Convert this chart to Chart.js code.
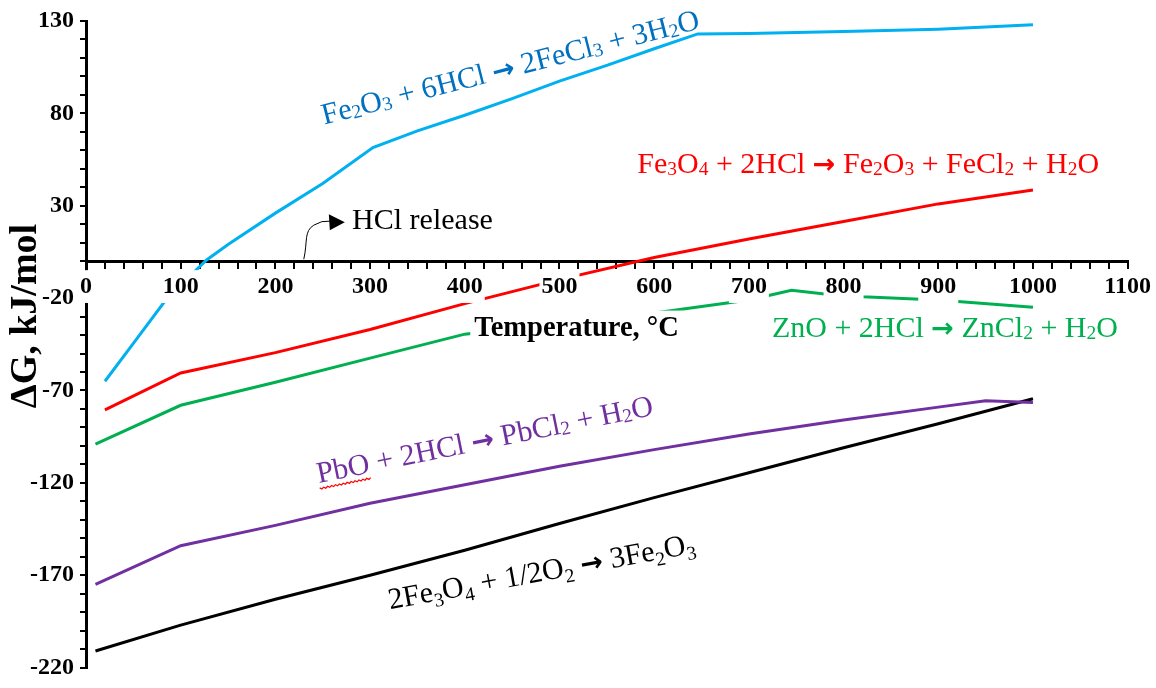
<!DOCTYPE html>
<html>
<head>
<meta charset="utf-8">
<script src="https://cdn.jsdelivr.net/npm/chart.js@4.4.1/dist/chart.umd.min.js"></script>
<style>
  body { margin: 0; background: #fff; }
  #wrap { width: 1156px; height: 688px; }
</style>
</head>
<body>
<div id="wrap"><canvas id="myChart"></canvas></div>
<script>
const serif = '"Liberation Serif", "Times New Roman", serif';

// temperature (°C) and ΔG (kJ/mol)
const fe2o3Temps = [20, 50, 85, 127, 150, 200, 250, 303, 350, 400, 450, 500, 550, 600, 646, 700, 800, 900, 1000];
const fe2o3Dg = [-65, -44.5, -20.5, 0.5, 9, 26, 42, 61.5, 70.5, 79, 88, 97.5, 106, 115, 123, 123.2, 124.3, 125.6, 128];

const fe3o4Temps = [20, 100, 200, 300, 400, 500, 600, 700, 800, 900, 1000];
const fe3o4Dg = [-80.5, -60.5, -49.5, -37, -23, -10, 2, 12, 21.5, 31, 38.5];

const znoTemps = [10, 100, 200, 300, 400, 500, 600, 700, 745, 780, 820, 900, 1000];
const znoDg = [-99, -78, -65.5, -52.5, -39.5, -33.5, -28, -21, -15.7, -17.8, -19.2, -21, -25];

const pboTemps = [10, 100, 200, 300, 400, 500, 600, 700, 800, 900, 950, 1000];
const pboDg = [-175, -154, -143, -131, -121, -111, -102, -93.5, -86, -79, -75.5, -76.5];

const oxTemps = [10, 100, 200, 300, 400, 500, 600, 700, 800, 900, 1000];
const oxDg = [-211, -197, -183, -170, -156.5, -142, -128, -114.5, -101, -88, -74.5];

const xTickStep = 20;   // minor ticks, labelled every 100
const yTickStep = 10;   // minor ticks, labelled every 50 from 130

// reaction labels: text, anchor (°C, kJ/mol), angle, colour
const labels = [
    {text: 'Fe_2O_3 + 6HCl → 2FeCl_3 + 3H_2O', x: 448, y: 105, angle: -14.3, color: '#0070c0'},
    {text: 'Fe_3O_4 + 2HCl → Fe_2O_3 + FeCl_2 + H_2O', x: 826, y: 53, angle: 0, color: '#ff0000'},
    {text: 'ZnO + 2HCl → ZnCl_2 + H_2O', x: 907, y: -36, angle: 0, color: '#00b050'},
    {text: 'PbO + 2HCl → PbCl_2 + H_2O', x: 421, y: -96.5, angle: -11.5, color: '#7030a0', squiggle: 'PbO'},
    {text: '2Fe_3O_4 + 1/2O_2 → 3Fe_2O_3', x: 481, y: -168, angle: -10.5, color: '#000000', drop: 0.2}
];

function toPoints(temps, dg){
    return temps.map((t, i) => ({x: t, y: dg[i]}));
}

function drawFormula(ctx, item, px, py, size){
    const subScale = 0.65;
    const drop = item.drop || 0.06;
    const parts = item.text.split(/(_\d|→)/).filter(p => p !== '').map(p => {
        if(p[0] === '_') return {t: p.slice(1), sub: true};
        return {t: p, sub: false, arrow: p === '→'};
    });
    const fontFor = p => {
        if(p.arrow) return 'bold ' + size * 0.9 + 'px "DejaVu Sans", sans-serif';
        return (p.sub ? size * subScale : size) + 'px ' + serif;
    };
    let total = 0;
    parts.forEach(p => { ctx.font = fontFor(p); p.w = ctx.measureText(p.t).width; total += p.w; });
    ctx.save();
    ctx.translate(px, py);
    ctx.rotate(item.angle * Math.PI / 180);
    ctx.fillStyle = item.color;
    ctx.textAlign = 'left';
    ctx.textBaseline = 'alphabetic';
    const base = size * 0.32;
    let cx = -total / 2;
    const startX = cx;
    parts.forEach(p => {
        ctx.font = fontFor(p);
        ctx.fillText(p.t, cx, base + (p.sub ? size * drop : 0));
        cx += p.w;
    });
    if(item.squiggle){
        // spell-check underline as in the original figure
        ctx.font = size + 'px ' + serif;
        const w = ctx.measureText(item.squiggle).width;
        ctx.strokeStyle = '#ff0000';
        ctx.lineWidth = 1.2;
        ctx.beginPath();
        for(let i = 0, s = startX; s <= startX + w; s += 2, i++){
            const yy = base + 5 + (i % 2 ? 1.5 : 0);
            if(i === 0) ctx.moveTo(s, yy); else ctx.lineTo(s, yy);
        }
        ctx.stroke();
    }
    ctx.restore();
}

const textPlugin = {
    id: 'textPlugin',
    afterDraw(chart){
        const ctx = chart.ctx;
        const xs = chart.scales.x;
        const ys = chart.scales.y;

        // x axis title, with a white box behind it
        const tx = xs.getPixelForValue(518);
        const ty = ys.getPixelForValue(-36.5);
        ctx.save();
        ctx.font = 'bold 28.5px ' + serif;
        const tw = ctx.measureText('Temperature, °C').width;
        ctx.fillStyle = '#ffffff';
        ctx.fillRect(tx - tw / 2 - 4, ty - 18, tw + 8, 36);
        ctx.fillStyle = '#000000';
        ctx.textAlign = 'center';
        ctx.textBaseline = 'middle';
        ctx.fillText('Temperature, °C', tx, ty);

        // y axis title
        ctx.translate(26, 316);
        ctx.rotate(-Math.PI / 2);
        ctx.font = 'bold 38px ' + serif;
        ctx.fillText('ΔG, kJ/mol', 0, 0);
        ctx.restore();

        labels.forEach(item => {
            drawFormula(ctx, item, xs.getPixelForValue(item.x), ys.getPixelForValue(item.y), 30);
        });

        // HCl release callout
        const ax = xs.getPixelForValue(230);
        const ay = ys.getPixelForValue(0);
        ctx.save();
        ctx.strokeStyle = '#000000';
        ctx.lineWidth = 1;
        ctx.beginPath();
        ctx.moveTo(ax, ay - 2);
        ctx.bezierCurveTo(ax + 4, ay - 20, ax, ay - 30, ax + 10, ay - 36);
        ctx.quadraticCurveTo(ax + 18, ay - 41, ax + 26, ay - 40);
        ctx.stroke();
        ctx.fillStyle = '#000000';
        ctx.beginPath();
        ctx.moveTo(ax + 25, ay - 47);
        ctx.lineTo(ax + 41, ay - 39);
        ctx.lineTo(ax + 26, ay - 31);
        ctx.closePath();
        ctx.fill();
        ctx.font = '30px ' + serif;
        ctx.textAlign = 'left';
        ctx.textBaseline = 'alphabetic';
        const hx = xs.getPixelForValue(281);
        const hy = ys.getPixelForValue(22.7);
        ctx.fillText('HCl release', hx, hy + 10);
        ctx.restore();
    }
};

Chart.defaults.font.family = serif;
Chart.defaults.color = '#000000';

const ctx = document.getElementById('myChart').getContext('2d');
const myChart = new Chart(ctx, {
    type: 'line',
    data: {
        datasets: [
            {label: 'Fe2O3 + 6HCl', data: toPoints(fe2o3Temps, fe2o3Dg), borderColor: '#00b0f0'},
            {label: 'Fe3O4 + 2HCl', data: toPoints(fe3o4Temps, fe3o4Dg), borderColor: '#ff0000'},
            {label: 'ZnO + 2HCl', data: toPoints(znoTemps, znoDg), borderColor: '#00b050'},
            {label: 'PbO + 2HCl', data: toPoints(pboTemps, pboDg), borderColor: '#7030a0'},
            {label: '2Fe3O4 + 1/2O2', data: toPoints(oxTemps, oxDg), borderColor: '#000000'}
        ]
    },
    options: {
        responsive: true,
        maintainAspectRatio: false,
        animation: false,
        layout: {padding: {left: 0, top: 21, right: 26, bottom: 11}},
        elements: {
            point: {radius: 0},
            line: {borderWidth: 3, tension: 0, fill: false}
        },
        plugins: {
            legend: {display: false},
            tooltip: {enabled: false}
        },
        scales: {
            x: {
                type: 'linear',
                position: {y: 0},
                min: 0,
                max: 1100,
                border: {display: true, color: '#000000', width: 3},
                grid: {drawOnChartArea: false, drawTicks: true, tickLength: 6, color: '#000000', lineWidth: 2},
                ticks: {
                    stepSize: xTickStep,
                    autoSkip: false,
                    maxRotation: 0,
                    padding: 5,
                    z: 1,
                    font: {size: 24, weight: 'bold'},
                    color: '#000000',
                    showLabelBackdrop: c => c.tick && c.tick.value % 100 === 0,
                    backdropColor: '#ffffff',
                    backdropPadding: 2,
                    callback: v => (v % 100 === 0 ? v : '')
                }
            },
            y: {
                type: 'linear',
                min: -220,
                max: 130,
                border: {display: true, color: '#000000', width: 3},
                grid: {drawOnChartArea: false, drawTicks: true, tickLength: 6, color: '#000000', lineWidth: 2},
                afterFit: scale => { scale.width = 86; },
                ticks: {
                    stepSize: yTickStep,
                    autoSkip: false,
                    padding: 6,
                    font: {size: 24, weight: 'bold'},
                    color: '#000000',
                    callback: v => ((v - 130) % 50 === 0 ? '' + v : '')
                }
            }
        }
    },
    plugins: [textPlugin]
});
</script>
</body>
</html>
